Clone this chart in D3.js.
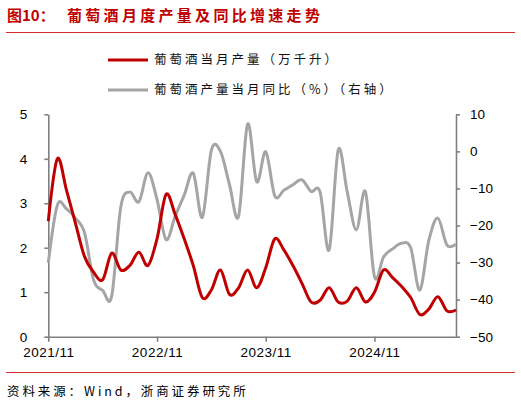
<!DOCTYPE html>
<html lang="zh">
<head>
    <meta charset="UTF-8">
    <title>葡萄酒月度产量及同比增速走势</title>
    <style>
        body { margin: 0; background: #fff; }
        svg { display: block; }
        .axis text { font-family: "Liberation Sans", Arial, sans-serif; font-size: 13.5px; fill: #000; }
        .axis path, .axis line { stroke: #808080; stroke-width: 1.6px; }
        .cjk { font-family: "Noto Sans CJK SC", sans-serif; }
    </style>
</head>
<body>
<div id="chart"></div>
<script src="https://d3js.org/d3.v7.min.js"></script>
<script>
    // months, 2021/11 .. 2025/08
    const months = [
        "2021/11", "2021/12",
        "2022/01", "2022/02", "2022/03", "2022/04", "2022/05", "2022/06",
        "2022/07", "2022/08", "2022/09", "2022/10", "2022/11", "2022/12",
        "2023/01", "2023/02", "2023/03", "2023/04", "2023/05", "2023/06",
        "2023/07", "2023/08", "2023/09", "2023/10", "2023/11", "2023/12",
        "2024/01", "2024/02", "2024/03", "2024/04", "2024/05", "2024/06",
        "2024/07", "2024/08", "2024/09", "2024/10", "2024/11", "2024/12",
        "2025/01", "2025/02", "2025/03", "2025/04", "2025/05", "2025/06",
        "2025/07", "2025/08"
    ];

    // 葡萄酒当月产量（万千升）
    const output = [
        2.6, 4.0, 3.3, 2.55, 1.8, 1.45, 1.28, 1.88, 1.5, 1.6, 1.9, 1.6,
        2.2, 3.2, 2.75, 2.2, 1.6, 0.88, 1.05, 1.5, 0.95, 1.1, 1.5, 1.1,
        1.55, 2.2, 1.95, 1.6, 1.2, 0.78, 0.82, 1.1, 0.78, 0.8, 1.1, 0.78,
        1.0, 1.5, 1.33, 1.13, 0.88, 0.5, 0.62, 0.9, 0.58, 0.6
    ];

    // 葡萄酒产量当月同比（%）
    const yoy = [
        -30, -14.5, -15.5, -18, -22, -34.7, -37.5, -39, -15, -11, -13.6, -5.8,
        -13, -23.8, -17.5, -11.8, -5.9, -17.8, 0.3, 0, -9, -17.5, 7.4, -8.2,
        -0.1, -12, -10.5, -9, -7.7, -10.8, -11, -26.6, 0.4, -11, -21.2, -10.9,
        -33.8, -28.5, -26.3, -24.8, -26, -37.4, -24, -18, -25.3, -25
    ];

    const xTicks = ["2021/11", "2022/11", "2023/11", "2024/11"];
    const leftTicks = [0, 1, 2, 3, 4, 5];
    const rightTicks = [-50, -40, -30, -20, -10, 0, 10];
    const seriesNames = ["葡萄酒当月产量（万千升）", "葡萄酒产量当月同比（%）（右轴）"];

    const width = 521, height = 403;
    const red = "#c00000", grey = "#a5a5a5";
    const plot = { left: 48.3, right: 456, top: 114.3, bottom: 336.7 };

    const svg = d3.select("#chart").append("svg")
        .attr("width", width)
        .attr("height", height);

    // title and rules
    svg.append("text").attr("class", "cjk")
        .attr("x", 7).attr("y", 21)
        .attr("font-size", 15).attr("font-weight", "bold")
        .attr("fill", red)
        .text("图10：");
    svg.append("text").attr("class", "cjk")
        .attr("x", 67).attr("y", 21)
        .attr("font-size", 15).attr("font-weight", "bold")
        .attr("letter-spacing", 3.3)
        .attr("fill", red)
        .text("葡萄酒月度产量及同比增速走势");
    svg.append("line")
        .attr("x1", 6).attr("x2", 515).attr("y1", 32.5).attr("y2", 32.5)
        .attr("stroke", "#d42b2b").attr("stroke-width", 1);
    svg.append("line")
        .attr("x1", 6).attr("x2", 515).attr("y1", 372.5).attr("y2", 372.5)
        .attr("stroke", "#d42b2b").attr("stroke-width", 1);

    // source
    svg.append("text").attr("class", "cjk")
        .attr("x", 7).attr("y", 396)
        .attr("font-size", 12.5)
        .attr("letter-spacing", 2.9)
        .attr("fill", "#000")
        .text("资料来源：Wind，浙商证券研究所");

    // legend
    const legend = svg.append("g");
    [red, grey].forEach((c, i) => {
        const y = 60 + i * 30;
        legend.append("line")
            .attr("x1", 108).attr("x2", 148).attr("y1", y).attr("y2", y)
            .attr("stroke", c).attr("stroke-width", 3);
        legend.append("text").attr("class", "cjk")
            .attr("x", 154).attr("y", y)
            .attr("dy", "0.35em")
            .attr("font-size", 12.5)
            .attr("letter-spacing", 3)
            .attr("fill", "#111")
            .text(seriesNames[i]);
    });

    // scales
    const x = d3.scalePoint().domain(months).range([plot.left, plot.right]);
    const yL = d3.scaleLinear().domain([0, 5]).range([plot.bottom, plot.top]);
    const yR = d3.scaleLinear().domain([-50, 10]).range([plot.bottom, plot.top]);

    // axes
    const fmt = d => d < 0 ? "\u2212" + Math.abs(d) : d;
    svg.append("g").attr("class", "axis")
        .attr("transform", `translate(${plot.left},0)`)
        .call(d3.axisLeft(yL).tickValues(leftTicks).tickFormat(d3.format("d"))
            .tickSize(4).tickPadding(17).tickSizeOuter(0));
    svg.append("g").attr("class", "axis")
        .attr("transform", `translate(${plot.right},0)`)
        .call(d3.axisRight(yR).tickValues(rightTicks).tickFormat(fmt)
            .tickSize(4).tickPadding(10).tickSizeOuter(0));
    svg.append("g").attr("class", "axis")
        .attr("transform", `translate(0,${plot.bottom})`)
        .call(d3.axisBottom(x).tickValues(xTicks).tickSize(5).tickPadding(6).tickSizeOuter(0))
        .selectAll("text").attr("font-size", 14).attr("letter-spacing", 0.5);

    // lines
    const lineL = d3.line()
        .x((d, i) => x(months[i]))
        .y(d => yL(d))
        .curve(d3.curveCardinal.tension(0));
    const lineR = d3.line()
        .x((d, i) => x(months[i]))
        .y(d => yR(d))
        .curve(d3.curveCardinal.tension(0));

    svg.append("path")
        .datum(yoy)
        .attr("fill", "none")
        .attr("stroke", grey)
        .attr("stroke-width", 3)
        .attr("d", lineR);
    svg.append("path")
        .datum(output)
        .attr("fill", "none")
        .attr("stroke", red)
        .attr("stroke-width", 3)
        .attr("d", lineL);
</script>
</body>
</html>
